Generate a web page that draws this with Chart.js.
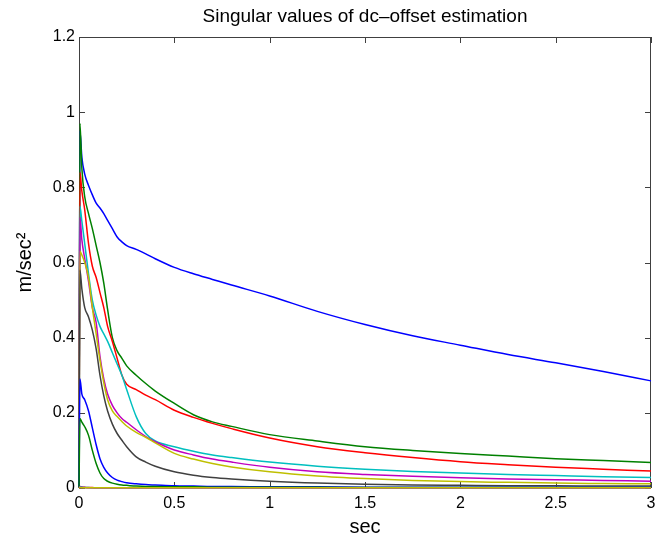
<!DOCTYPE html>
<html>
<head>
<meta charset="utf-8">
<script src="https://cdn.jsdelivr.net/npm/chart.js@4.4.1/dist/chart.umd.min.js"></script>
<style>
  html, body { margin: 0; padding: 0; background: #fff; }
  canvas { display: block; }
</style>
</head>
<body>
<canvas id="svChart" width="670" height="537"></canvas>
<script>
// time axis (sec), shared by every curve
const timeSec = [0, 0.005, 0.015, 0.03, 0.05, 0.07, 0.09, 0.11, 0.13, 0.15, 0.175, 0.2, 0.225, 0.25, 0.3, 0.35, 0.4, 0.5, 0.6, 0.7, 0.8, 1.0, 1.25, 1.5, 1.75, 2.0, 2.25, 2.5, 2.75, 3.0];

// singular values (m/sec^2)
const sv1  = [0, 0.95, 0.88, 0.835, 0.805, 0.78, 0.758, 0.745, 0.73, 0.712, 0.69, 0.668, 0.655, 0.645, 0.635, 0.623, 0.61, 0.587, 0.57, 0.555, 0.54, 0.511, 0.47, 0.435, 0.405, 0.38, 0.355, 0.333, 0.31, 0.285];
const sv2  = [0, 0.97, 0.85, 0.775, 0.73, 0.69, 0.645, 0.6, 0.545, 0.475, 0.40, 0.365, 0.345, 0.325, 0.30, 0.278, 0.258, 0.225, 0.195, 0.176, 0.164, 0.142, 0.125, 0.11, 0.1, 0.092, 0.085, 0.078, 0.073, 0.068];
const sv3  = [0, 0.84, 0.79, 0.74, 0.65, 0.59, 0.56, 0.52, 0.48, 0.43, 0.39, 0.345, 0.30, 0.276, 0.262, 0.247, 0.235, 0.207, 0.188, 0.172, 0.158, 0.133, 0.11, 0.094, 0.081, 0.07, 0.062, 0.055, 0.05, 0.045];
const sv4  = [0, 0.75, 0.71, 0.65, 0.57, 0.50, 0.46, 0.43, 0.41, 0.39, 0.36, 0.33, 0.30, 0.262, 0.19, 0.145, 0.125, 0.11, 0.098, 0.088, 0.081, 0.069, 0.058, 0.05, 0.044, 0.04, 0.036, 0.033, 0.03, 0.028];
const sv5  = [0, 0.72, 0.66, 0.61, 0.55, 0.48, 0.44, 0.35, 0.29, 0.25, 0.22, 0.2, 0.185, 0.175, 0.155, 0.137, 0.123, 0.101, 0.088, 0.077, 0.069, 0.055, 0.043, 0.036, 0.031, 0.027, 0.024, 0.022, 0.02, 0.018];
const sv6  = [0, 0.63, 0.62, 0.60, 0.56, 0.48, 0.41, 0.34, 0.28, 0.235, 0.205, 0.19, 0.177, 0.165, 0.148, 0.135, 0.12, 0.092, 0.077, 0.065, 0.056, 0.043, 0.032, 0.025, 0.02, 0.017, 0.015, 0.013, 0.012, 0.011];
const sv7  = [0, 0.58, 0.53, 0.48, 0.455, 0.42, 0.37, 0.30, 0.245, 0.205, 0.17, 0.145, 0.127, 0.11, 0.083, 0.069, 0.058, 0.043, 0.034, 0.028, 0.024, 0.018, 0.013, 0.01, 0.008, 0.007, 0.006, 0.006, 0.005, 0.005];
const sv8  = [0, 0.29, 0.25, 0.235, 0.205, 0.16, 0.115, 0.078, 0.055, 0.04, 0.028, 0.021, 0.017, 0.014, 0.011, 0.009, 0.008, 0.006, 0.005, 0.004, 0.004, 0.003, 0.003, 0.002, 0.002, 0.002, 0.002, 0.002, 0.002, 0.002];
const sv9  = [0, 0.185, 0.175, 0.163, 0.14, 0.1, 0.065, 0.04, 0.025, 0.018, 0.013, 0.01, 0.008, 0.007, 0.005, 0.004, 0.004, 0.003, 0.003, 0.002, 0.002, 0.002, 0.002, 0.001, 0.001, 0.001, 0.001, 0.001, 0.001, 0.001];
const sv10 = [0, 0.004, 0.003, 0.002, 0.001, 0.001, 0.0005, 0.0005, 0.0005, 0.0005, 0.0005, 0.0005, 0.0005, 0.0005, 0.0005, 0.0005, 0.0005, 0.0005, 0.0005, 0.0005, 0.0005, 0.0005, 0.0005, 0.0005, 0.0005, 0.0005, 0.0005, 0.0005, 0.0005, 0.0005];
const sv11 = [0, 0.003, 0.002, 0.001, 0.001, 0.0005, 0.0005, 0.0005, 0.0005, 0.0005, 0.0005, 0.0005, 0.0005, 0.0005, 0.0005, 0.0005, 0.0005, 0.0005, 0.0005, 0.0005, 0.0005, 0.0005, 0.0005, 0.0005, 0.0005, 0.0005, 0.0005, 0.0005, 0.0005, 0.0005];
const sv12 = [0, 0.002, 0.001, 0.001, 0.0005, 0.0005, 0.0005, 0.0005, 0.0005, 0.0005, 0.0005, 0.0005, 0.0005, 0.0005, 0.0005, 0.0005, 0.0005, 0.0005, 0.0005, 0.0005, 0.0005, 0.0005, 0.0005, 0.0005, 0.0005, 0.0005, 0.0005, 0.0005, 0.0005, 0.0005];
const sv13 = [0, 0.001, 0.0005, 0.0005, 0.0005, 0.0005, 0.0005, 0.0005, 0.0005, 0.0005, 0.0005, 0.0005, 0.0005, 0.0005, 0.0005, 0.0005, 0.0005, 0.0005, 0.0005, 0.0005, 0.0005, 0.0005, 0.0005, 0.0005, 0.0005, 0.0005, 0.0005, 0.0005, 0.0005, 0.0005];

const allSeries = [sv1, sv2, sv3, sv4, sv5, sv6, sv7, sv8, sv9, sv10, sv11, sv12, sv13];

// old matlab colour order
const lineColors = ['#0000ff', '#008000', '#ff0000', '#00bfbf', '#bf00bf', '#bfbf00', '#404040'];

const xTicks = [0, 0.5, 1, 1.5, 2, 2.5, 3];
const yTicks = [0, 0.2, 0.4, 0.6, 0.8, 1, 1.2];

const chartTitle = 'Singular values of dc\u2013offset estimation';
const FONT = "'Liberation Sans', Arial, Helvetica, sans-serif";

let datasets = allSeries.map((vals, i) => ({
    label: 'sv' + (i + 1),
    data: timeSec.map((t, k) => ({ x: t, y: vals[k] })),
    borderColor: lineColors[i % lineColors.length],
    borderWidth: 1.5,
    pointRadius: 0,
    fill: false,
    cubicInterpolationMode: 'monotone',
    clip: false
}));
// chart.js paints dataset 0 last, matlab paints the last line on top
datasets = datasets.reverse();

// box round the axes with inward ticks, like matlab
const matlabBox = {
    id: 'matlabBox',
    beforeDatasetsDraw(chart) {
        const { ctx, chartArea: a, scales: { x, y } } = chart;
        const len = 6;
        ctx.save();
        ctx.strokeStyle = '#404040';
        ctx.lineWidth = 1;
        ctx.beginPath();
        ctx.rect(a.left + 0.5, a.top + 0.5, a.right - a.left - 1, a.bottom - a.top - 1);
        xTicks.forEach(v => {
            const px = Math.round(x.getPixelForValue(v)) + 0.5;
            ctx.moveTo(px, a.bottom);
            ctx.lineTo(px, a.bottom - len);
            ctx.moveTo(px, a.top);
            ctx.lineTo(px, a.top + len);
        });
        yTicks.forEach(v => {
            const py = Math.round(y.getPixelForValue(v)) + 0.5;
            ctx.moveTo(a.left, py);
            ctx.lineTo(a.left + len, py);
            ctx.moveTo(a.right, py);
            ctx.lineTo(a.right - len, py);
        });
        ctx.stroke();
        ctx.restore();
    },
    // title centred over the axes box, not over the canvas
    afterDraw(chart) {
        const { ctx, chartArea: a } = chart;
        ctx.save();
        ctx.fillStyle = '#000';
        ctx.font = '19px ' + FONT;
        ctx.textAlign = 'center';
        ctx.textBaseline = 'middle';
        ctx.fillText(chartTitle, (a.left + a.right) / 2, 17);
        ctx.restore();
    }
};

const fmt = v => String(Number(v.toFixed(2)));

new Chart(document.getElementById('svChart'), {
    type: 'line',
    data: { datasets },
    plugins: [matlabBox],
    options: {
        responsive: false,
        animation: false,
        layout: { padding: { left: 0, right: 19, top: 37, bottom: 0 } },
        plugins: {
            legend: { display: false },
            tooltip: { enabled: false },
            title: { display: false }
        },
        scales: {
            x: {
                type: 'linear',
                min: 0,
                max: 3,
                afterBuildTicks: s => { s.ticks = xTicks.map(v => ({ value: v })); },
                afterFit: s => { s.height = 49; },
                grid: { display: false, drawTicks: false },
                border: { display: false },
                ticks: { color: '#000', padding: 6, maxRotation: 0, callback: fmt, font: { family: FONT, size: 16 } },
                title: {
                    display: true,
                    text: 'sec',
                    color: '#000',
                    font: { family: FONT, size: 20, lineHeight: 1 },
                    padding: { top: 0, bottom: 0 }
                }
            },
            y: {
                type: 'linear',
                min: 0,
                max: 1.2,
                afterBuildTicks: s => { s.ticks = yTicks.map(v => ({ value: v })); },
                afterFit: s => { s.width = 79; },
                grid: { display: false, drawTicks: false },
                border: { display: false },
                ticks: { color: '#000', padding: 4, callback: fmt, font: { family: FONT, size: 16 } },
                title: {
                    display: true,
                    text: 'm/sec\u00b2',
                    color: '#000',
                    font: { family: FONT, size: 20, lineHeight: 1 },
                    padding: { top: 15, bottom: 0 }
                }
            }
        }
    }
});
</script>
</body>
</html>
